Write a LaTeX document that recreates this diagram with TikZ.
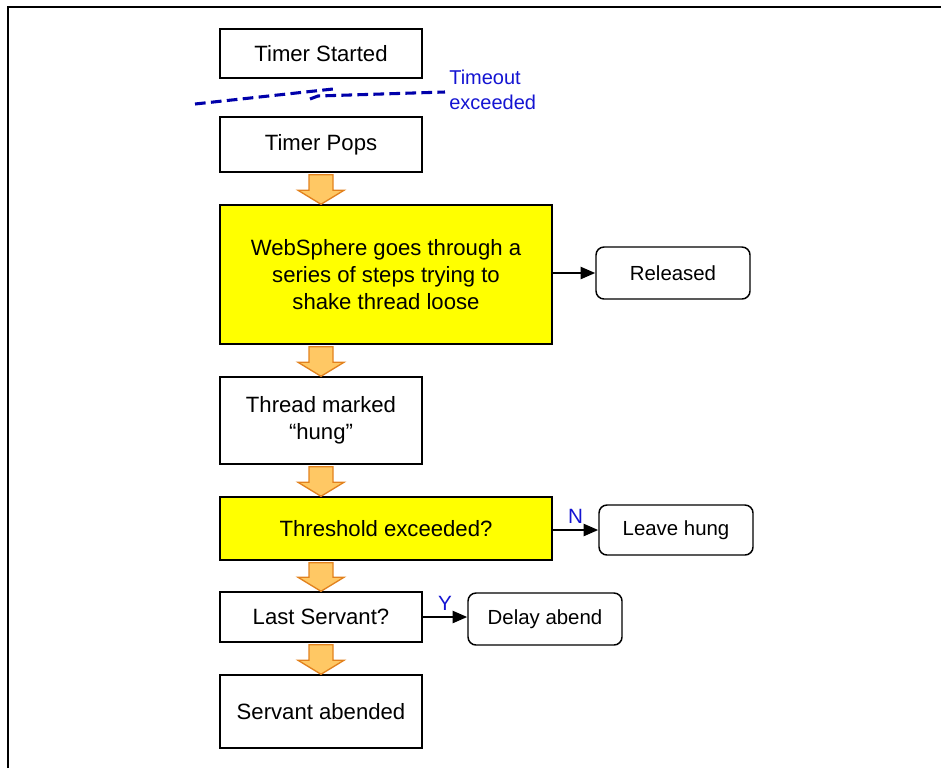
\documentclass[tikz,border=0pt]{standalone}
\usepackage{fontspec}
\setmainfont{Liberation Sans}
\usetikzlibrary{arrows.meta,calc}
\definecolor{hiyellow}{RGB}{255,255,0}
\definecolor{arrowfill}{RGB}{255,200,100}
\definecolor{arrowline}{RGB}{226,130,30}
\definecolor{labelblue}{RGB}{20,20,210}
\definecolor{dashblue}{RGB}{0,0,170}
\begin{document}
\begin{tikzpicture}[x=0.75pt,y=-0.75pt,
  stepbox/.style={draw,line width=1.1pt,minimum width=151.5pt,align=center,
    font=\fontsize{16.6}{20}\selectfont,inner sep=0pt},
  yellowbox/.style={stepbox,fill=hiyellow,minimum width=249pt},
  sidebox/.style={draw,line width=1.1pt,rounded corners=6pt,minimum width=115.5pt,
    font=\fontsize{15.3}{18}\selectfont,inner sep=0pt},
  fatarrow/.style={fill=arrowfill,draw=arrowline,line width=1pt,line join=miter},
  link/.style={line width=1.8pt,-{Triangle[length=11pt,width=9pt]}},
  yn/.style={text=labelblue,font=\fontsize{15.5}{18}\selectfont}]
\useasboundingbox (0,0) rectangle (941,768);
\draw[line width=1.6pt] (8,768) -- (8,7) -- (941,7);
% main column
\node[stepbox,minimum height=36.75pt] (started) at (321,53.5) {Timer Started};
\node[stepbox,minimum height=41.25pt] (pops) at (321,144.5) {Timer Pops};
\node[yellowbox,minimum height=104.25pt] (websph) at (386,274.5)
  {WebSphere goes through a\\series of steps trying to\\shake thread loose};
\node[stepbox,minimum height=65.25pt] (marked) at (321,420.5) {Thread marked\\“hung”};
\node[yellowbox,minimum height=47.25pt] (thresh) at (386,528.5) {Threshold exceeded?};
\node[stepbox,minimum height=37.5pt] (last) at (321,617) {Last Servant?};
\node[stepbox,minimum height=54.75pt] (abended) at (321,711.5) {Servant abended};
% side boxes
\node[sidebox,minimum height=39pt] (released) at (673,273) {Released};
\node[sidebox,minimum height=37.5pt] (leave) at (676,530) {Leave hung};
\node[sidebox,minimum height=39pt] (delay) at (545,619) {Delay abend};
% timeout break
\draw[dashblue,line width=2.3pt,dash pattern=on 8pt off 4pt] (195,104) -- (333,89);
\draw[dashblue,line width=2.3pt,dash pattern=on 8pt off 4pt] (310,99) -- (318,96) -- (445,92);
\node[anchor=north west,align=left,text=labelblue,font=\fontsize{15}{18.75}\selectfont,inner sep=0pt]
  (timeout) at (449,70) {Timeout\\exceeded};
% fat arrows down the column
\foreach \a/\b in {pops/websph,websph/marked,marked/thresh,thresh/last,last/abended}{
  \path (\a.south -| started) ++(0,2) coordinate (ftop) (\b.north -| started) coordinate (fbot);
  \draw[fatarrow] ($(ftop)+(-12,0)$) -- ($(ftop)+(12,0)$) -- ($(fbot)+(12,-14)$)
    -- ($(fbot)+(23,-14)$) -- (fbot) -- ($(fbot)+(-23,-14)$) -- ($(fbot)+(-12,-14)$) -- cycle;
}
% side links
\draw[link] (websph.east |- released) -- (released.west);
\draw[link] (thresh.east |- leave) -- (leave.west) node[yn,midway,above=1pt] {N};
\draw[link] (last.east) -- (last.east -| delay.west) node[yn,midway,above=1pt] {Y};
\end{tikzpicture}
\end{document}
